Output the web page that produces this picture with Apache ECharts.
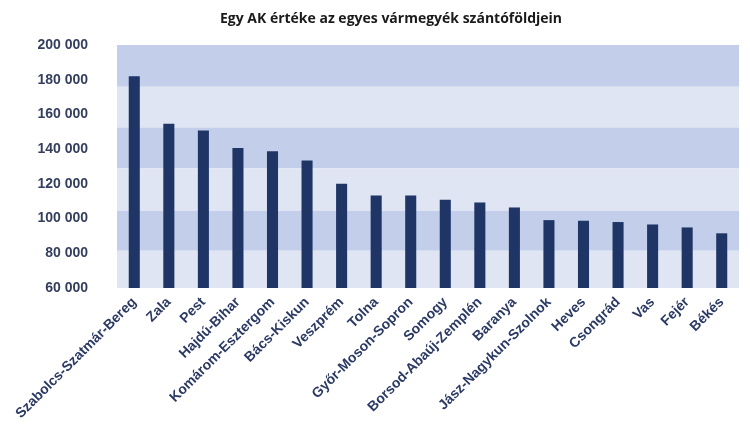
<!DOCTYPE html>
<html>
<head>
<meta charset="utf-8">
<script src="https://cdn.jsdelivr.net/npm/echarts@6/dist/echarts.min.js"></script>
<style>html,body{margin:0;padding:0;background:#fff;}#c{width:750px;height:437px;}</style>
</head>
<body>
<div id="c"></div>
<script>
const categories = ["Szabolcs-Szatmár-Bereg","Zala","Pest","Hajdú-Bihar","Komárom-Esztergom","Bács-Kiskun","Veszprém","Tolna","Győr-Moson-Sopron","Somogy","Borsod-Abaúj-Zemplén","Baranya","Jász-Nagykun-Szolnok","Heves","Csongrád","Vas","Fejér","Békés"];
const values = [182000,154700,150700,140700,138800,133400,120000,113300,113300,110800,109300,106400,99100,98700,98000,96600,94900,91500];
const bandEdges = [200000,176000,152500,129000,104500,81500,60000];
const bandColors = ["#c3cfea","#dfe5f3"];

const bands = [];
for (let i = 0; i < bandEdges.length - 1; i++) {
  bands.push([{yAxis: bandEdges[i], itemStyle: {color: bandColors[i % 2]}}, {yAxis: bandEdges[i + 1]}]);
}

const chart = echarts.init(document.getElementById('c'), null, {renderer: 'canvas'});
chart.setOption({
  animation: false,
  title: {
    text: 'Egy AK értéke az egyes vármegyék szántóföldjein',
    left: 386, top: 7, textAlign: 'center',
    textStyle: {fontFamily: 'Open Sans', fontWeight: 'bold', fontSize: 14, color: '#1a1a1a'}
  },
  grid: {left: 117, right: 11, top: 45, bottom: 149, containLabel: false},
  xAxis: {
    type: 'category', data: categories,
    axisLine: {show: false}, axisTick: {show: false},
    axisLabel: {rotate: 45, interval: 0, margin: 12, fontFamily: 'Liberation Sans', fontWeight: 'bold', fontSize: 14, color: '#2b3a64'}
  },
  yAxis: {
    type: 'value', min: 60000, max: 200000, interval: 20000,
    axisLine: {show: false}, axisTick: {show: false}, splitLine: {show: false},
    axisLabel: {margin: 29, fontFamily: 'Liberation Sans', fontWeight: 'bold', fontSize: 14, color: '#343f5e',
      formatter: v => String(v).replace(/\B(?=(\d{3})+(?!\d))/g, ' ')}
  },
  series: [{
    type: 'bar', data: values, barWidth: '32%',
    itemStyle: {color: '#1f3566'},
    markArea: {silent: true, z: -1, data: bands}
  }]
});
</script>
</body>
</html>
